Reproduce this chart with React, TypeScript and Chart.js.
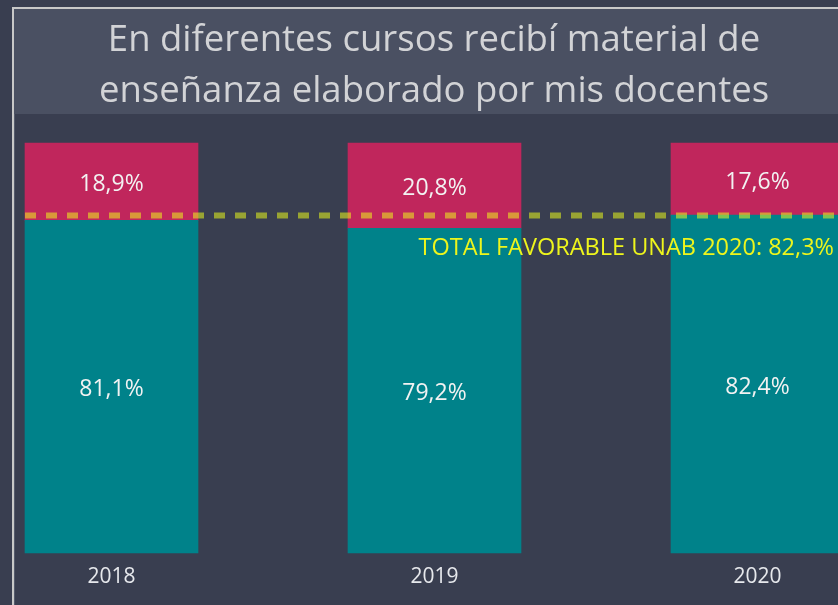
import React, { useEffect, useRef } from "react";
import { Chart, registerables } from "chart.js";

Chart.register(...registerables);

const categories = ["2018", "2019", "2020"];
const favorable = [81.1, 79.2, 82.4];
const unfavorable = [18.9, 20.8, 17.6];
const referenceValue = 82.3;
const referenceLabel = "TOTAL FAVORABLE UNAB 2020: 82,3%";
const titleLines = ["En diferentes cursos recibí material de", "enseñanza elaborado por mis docentes"];

const FONT = "'Open Sans', 'Noto Sans', sans-serif";
const fmt = (v: number) => v.toFixed(1).replace(".", ",") + "%";

export default function App() {
  const ref = useRef<HTMLCanvasElement | null>(null);
  useEffect(() => {
    if (!ref.current) return;
    const framePlugin = {
      id: "frame",
      beforeDraw(chart: any) {
        const ctx = chart.ctx;
        ctx.save();
        ctx.fillStyle = "#393e50";
        ctx.fillRect(0, 0, chart.width, chart.height);
        ctx.fillStyle = "#4a5062";
        ctx.fillRect(14, 9, chart.width - 14, 105);
        ctx.fillStyle = "#c8c8c8";
        ctx.fillRect(12, 7, 2, chart.height - 7);
        ctx.fillRect(12, 7, chart.width - 12, 2);
        ctx.fillStyle = "#555b6c";
        ctx.fillRect(14, 114, 1, chart.height - 114);
        ctx.fillStyle = "#d2d3d6";
        ctx.font = `36.5px ${FONT}`;
        ctx.textAlign = "center";
        ctx.textBaseline = "middle";
        ctx.fillText(titleLines[0], 434, 41);
        ctx.fillText(titleLines[1], 434, 92);
        ctx.restore();
      },
    };
    const overlayPlugin = {
      id: "overlay",
      afterDatasetsDraw(chart: any) {
        const ctx = chart.ctx;
        ctx.save();
        ctx.font = `23px ${FONT}`;
        ctx.textAlign = "center";
        ctx.textBaseline = "middle";
        ctx.fillStyle = "#f2f2f2";
        chart.data.datasets.forEach((ds: any, di: number) => {
          const meta = chart.getDatasetMeta(di);
          meta.data.forEach((el: any, i: number) => {
            const y = (el.y + el.base) / 2 + 3;
            ctx.fillText(fmt(ds.data[i]), el.x, y);
          });
        });
        const yy = chart.scales.y.getPixelForValue(referenceValue);
        ctx.strokeStyle = "rgba(240,255,26,0.53)";
        ctx.lineWidth = 6;
        ctx.setLineDash([11, 10]);
        ctx.beginPath();
        ctx.moveTo(25, yy);
        ctx.lineTo(chart.width, yy);
        ctx.stroke();
        ctx.setLineDash([]);
        ctx.fillStyle = "#eef51c";
        ctx.textAlign = "right";
        ctx.font = `23.5px ${FONT}`;
        ctx.fillText(referenceLabel, 834, yy + 33);
        ctx.restore();
      },
    };
    const chart = new Chart(ref.current, {
      type: "bar",
      data: {
        labels: categories,
        datasets: [
          { label: "Favorable", data: favorable, backgroundColor: "#00828a", barThickness: 173, clip: false } as any,
          { label: "Desfavorable", data: unfavorable, backgroundColor: "#c0265c", barThickness: 173, clip: false } as any,
        ],
      },
      options: {
        responsive: false,
        animation: false,
        layout: { padding: { left: 111.5, right: 80.5, top: 143, bottom: 3 } },
        plugins: { legend: { display: false }, title: { display: false }, tooltip: { enabled: false } },
        scales: {
          x: {
            stacked: true,
            offset: false,
            grid: { display: false, drawTicks: false },
            border: { display: false },
            ticks: { color: "#e6e8ec", font: { family: FONT, size: 21 }, padding: 12 },
          },
          y: { stacked: true, min: 0, max: 100, display: false },
        },
      },
      plugins: [framePlugin, overlayPlugin],
    });
    return () => chart.destroy();
  }, []);
  return (
    <div style={{ position: "absolute", left: 0, top: 0, width: 838, height: 605 }}>
      <canvas ref={ref} width={838} height={605} />
    </div>
  );
}
